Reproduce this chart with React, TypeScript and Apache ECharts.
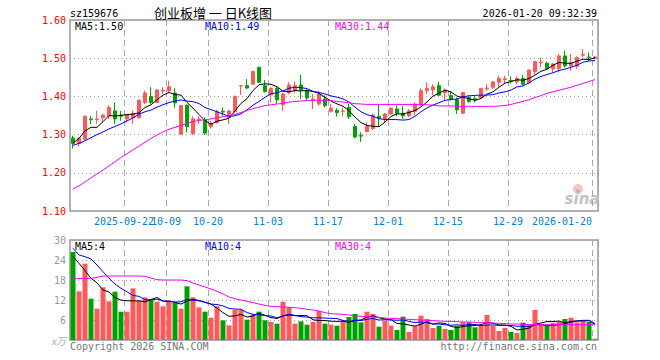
import React, { useEffect, useRef } from 'react';
import * as echarts from 'echarts';

const dates: string[] = [
  '2025-09-09','2025-09-10','2025-09-11','2025-09-12','2025-09-15','2025-09-16','2025-09-17','2025-09-18','2025-09-19',
  '2025-09-22','2025-09-23','2025-09-24','2025-09-25','2025-09-26','2025-09-29','2025-09-30',
  '2025-10-09','2025-10-10','2025-10-13','2025-10-14','2025-10-15','2025-10-16','2025-10-17',
  '2025-10-20','2025-10-21','2025-10-22','2025-10-23','2025-10-24','2025-10-27','2025-10-28','2025-10-29','2025-10-30','2025-10-31',
  '2025-11-03','2025-11-04','2025-11-05','2025-11-06','2025-11-07','2025-11-10','2025-11-11','2025-11-12','2025-11-13','2025-11-14',
  '2025-11-17','2025-11-18','2025-11-19','2025-11-20','2025-11-21','2025-11-24','2025-11-25','2025-11-26','2025-11-27','2025-11-28',
  '2025-12-01','2025-12-02','2025-12-03','2025-12-04','2025-12-05','2025-12-08','2025-12-09','2025-12-10','2025-12-11','2025-12-12',
  '2025-12-15','2025-12-16','2025-12-17','2025-12-18','2025-12-19','2025-12-22','2025-12-23','2025-12-24','2025-12-25','2025-12-26',
  '2025-12-29','2025-12-30','2025-12-31',
  '2026-01-05','2026-01-06','2026-01-07','2026-01-08','2026-01-09','2026-01-12','2026-01-13','2026-01-14','2026-01-15','2026-01-16',
  '2026-01-19','2026-01-20',
];

// [open, close, low, high]
const candles: number[][] = [
  [1.291,1.277,1.264,1.297],[1.277,1.290,1.269,1.293],[1.288,1.348,1.286,1.350],[1.341,1.339,1.328,1.349],
  [1.339,1.341,1.328,1.362],[1.344,1.351,1.332,1.354],[1.348,1.371,1.341,1.377],[1.362,1.341,1.328,1.384],
  [1.351,1.348,1.336,1.362],[1.341,1.351,1.332,1.354],[1.344,1.356,1.328,1.362],[1.345,1.390,1.341,1.392],
  [1.384,1.409,1.380,1.415],[1.400,1.384,1.380,1.424],[1.384,1.417,1.383,1.418],[1.414,1.416,1.406,1.424],
  [1.415,1.425,1.410,1.441],[1.409,1.383,1.371,1.421],[1.301,1.376,1.301,1.378],[1.377,1.321,1.306,1.378],
  [1.303,1.341,1.299,1.348],[1.338,1.341,1.328,1.348],[1.338,1.304,1.299,1.345],[1.321,1.329,1.316,1.336],
  [1.332,1.360,1.328,1.365],[1.361,1.359,1.349,1.371],[1.345,1.362,1.328,1.364],[1.360,1.400,1.358,1.402],
  [1.427,1.428,1.404,1.429],[1.428,1.422,1.419,1.445],[1.432,1.465,1.430,1.467],[1.476,1.437,1.435,1.478],
  [1.428,1.413,1.410,1.443],[1.404,1.421,1.384,1.424],[1.421,1.391,1.380,1.428],[1.378,1.406,1.362,1.410],
  [1.409,1.430,1.406,1.437],[1.415,1.428,1.410,1.439],[1.430,1.417,1.393,1.456],[1.415,1.396,1.389,1.419],
  [1.389,1.393,1.367,1.406],[1.380,1.406,1.376,1.415],[1.393,1.376,1.371,1.402],[1.361,1.369,1.358,1.380],
  [1.364,1.358,1.347,1.369],[1.361,1.362,1.348,1.371],[1.371,1.347,1.341,1.380],[1.321,1.294,1.290,1.328],
  [1.298,1.296,1.281,1.306],[1.308,1.321,1.306,1.332],[1.316,1.351,1.313,1.356],[1.348,1.342,1.321,1.378],
  [1.341,1.354,1.332,1.356],[1.354,1.369,1.352,1.371],[1.367,1.356,1.348,1.376],[1.356,1.349,1.341,1.374],
  [1.349,1.362,1.345,1.367],[1.361,1.380,1.351,1.384],[1.377,1.415,1.376,1.421],[1.415,1.421,1.406,1.437],
  [1.417,1.425,1.403,1.432],[1.428,1.403,1.402,1.438],[1.409,1.417,1.389,1.421],[1.402,1.393,1.389,1.412],
  [1.391,1.365,1.354,1.397],[1.356,1.410,1.354,1.412],[1.397,1.386,1.384,1.403],[1.394,1.392,1.384,1.402],
  [1.396,1.421,1.393,1.421],[1.420,1.422,1.415,1.432],[1.424,1.438,1.419,1.441],[1.437,1.447,1.425,1.454],
  [1.444,1.446,1.432,1.454],[1.442,1.440,1.434,1.452],[1.438,1.447,1.432,1.452],[1.447,1.432,1.428,1.456],
  [1.435,1.469,1.434,1.470],[1.465,1.491,1.458,1.493],[1.488,1.490,1.476,1.502],[1.487,1.473,1.470,1.491],
  [1.472,1.485,1.463,1.487],[1.473,1.506,1.463,1.511],[1.506,1.480,1.476,1.520],[1.480,1.489,1.467,1.511],
  [1.479,1.502,1.472,1.505],[1.508,1.510,1.502,1.524],[1.503,1.501,1.493,1.515],[1.499,1.503,1.498,1.506],
];

// volume, in units of 10,000 (x万)
const volumes: number[] = [
  26.4,14.6,22.9,12.4,9.4,15.8,11.6,14.5,8.5,8.5,
  15.5,11.8,12.8,12.1,11.5,10.1,11.6,11.2,9.4,16.1,
  12.8,9.8,8.5,6.7,10.1,5.9,4.4,9.0,9.0,6.1,
  7.6,8.5,5.9,5.4,4.9,11.5,9.8,4.9,5.6,4.6,
  5.4,8.7,4.9,4.6,4.3,5.8,6.9,7.8,5.3,8.5,
  7.8,4.0,5.8,4.3,3.0,7.0,2.4,4.1,7.3,6.3,
  3.6,4.3,3.3,3.0,4.3,5.3,5.3,3.8,4.3,7.5,
  4.3,2.7,3.6,2.4,2.1,5.2,4.6,9.0,4.6,4.3,
  5.1,5.4,6.3,6.7,5.3,5.8,5.4,0.4,
];

// moving-average values at the window start (they depend on days before the chart)
const priceMa5Head = [1.278, 1.290, 1.310, 1.319];
const priceMa10Head = [1.272, 1.277, 1.284, 1.292, 1.300, 1.307, 1.315, 1.321, 1.328];
const priceMa30: number[] = [
  1.158,1.166,1.176,1.187,1.197,1.207,1.218,1.229,1.240,1.250,
  1.260,1.270,1.280,1.290,1.299,1.307,1.314,1.319,1.324,1.329,
  1.334,1.337,1.339,1.341,1.344,1.347,1.349,1.353,1.358,1.363,
  1.368,1.372,1.376,1.378,1.380,1.382,1.385,1.387,1.388,1.389,
  1.390,1.390,1.390,1.389,1.387,1.385,1.383,1.381,1.380,1.379,
  1.379,1.379,1.379,1.379,1.379,1.379,1.379,1.379,1.379,1.378,
  1.377,1.375,1.375,1.375,1.374,1.374,1.374,1.374,1.374,1.374,
  1.374,1.375,1.376,1.379,1.383,1.387,1.391,1.397,1.402,1.408,
  1.412,1.416,1.420,1.424,1.429,1.434,1.439,1.444,
];
const volMa5Head = [25.0, 23.0, 20.8, 18.5];
const volMa10Head = [27.5, 25.5, 25.0, 24.3, 22.5, 20.5, 18.5, 16.8, 15.5];
const volMa30: number[] = [
  18.4,18.4,18.5,18.5,18.8,19.2,19.2,19.2,19.2,19.2,
  19.2,19.2,19.1,18.6,18.1,18.0,18.0,18.0,18.0,17.8,
  17.1,16.5,15.9,15.3,14.6,13.8,12.9,12.4,12.0,11.6,
  11.2,10.8,10.4,10.1,10.0,9.9,9.8,9.7,9.5,9.2,
  9.0,8.7,8.2,7.9,7.8,7.7,7.5,7.3,7.1,7.0,
  6.9,6.8,6.6,6.5,6.4,6.3,6.2,6.1,6.0,5.9,
  5.8,5.7,5.6,5.6,5.5,5.4,5.4,5.3,5.3,5.2,
  5.1,5.0,4.9,4.8,4.8,4.7,4.6,4.6,4.6,4.6,
  4.6,4.6,4.6,4.6,4.6,4.6,4.6,4.6,
];

const tickDates = ['2025-09-22','2025-10-09','2025-10-20','2025-11-03','2025-11-17','2025-12-01','2025-12-15','2025-12-29','2026-01-20'];

const stockCode = 'sz159676';
const chartTitle = '创业板增 一 日K线图';
const timeStamp = '2026-01-20 09:32:39';

const RED = '#ff5959';
const GREEN = '#00a000';
const MONO = '"DejaVu Sans Mono", "Liberation Mono", monospace';

function movingAvg(values: number[], n: number, head: number[]): number[] {
  return values.map((_, i) => {
    if (i < head.length) return head[i];
    let s = 0;
    for (let k = i - n + 1; k <= i; k++) s += values[k];
    return s / n;
  });
}

export default function App() {
  const ref = useRef<HTMLDivElement>(null);

  useEffect(() => {
    if (!ref.current) return;
    const chart = echarts.init(ref.current, undefined, { renderer: 'svg' });

    const closes = candles.map((c) => c[1]);
    const pMa5 = movingAvg(closes, 5, priceMa5Head);
    const pMa10 = movingAvg(closes, 10, priceMa10Head);
    const vMa5 = movingAvg(volumes, 5, volMa5Head);
    const vMa10 = movingAvg(volumes, 10, volMa10Head);
    const last = dates.length - 1;

    const tickIdx = new Set(tickDates.map((d) => dates.indexOf(d)));
    const tickText = (i: number) => {
      const d = dates[i];
      const k = tickDates.indexOf(d);
      return k === 0 || k === tickDates.length - 1 ? d : d.slice(5);
    };

    const vLine = {
      show: true,
      interval: (i: number) => tickIdx.has(i),
      lineStyle: { color: '#a8a8a8', type: [6, 4], width: 1 },
    };
    const hLine = { show: true, lineStyle: { color: '#a0a0a0', type: [1, 3], width: 1 } };

    const lineSeries = (name: string, data: number[], color: string, xi: number) => ({
      name,
      type: 'line',
      xAxisIndex: xi,
      yAxisIndex: xi,
      data: data.map((v) => +v.toFixed(4)),
      showSymbol: false,
      symbol: 'none',
      smooth: false,
      silent: true,
      lineStyle: { color, width: 1 },
      z: 3,
    });

    const txt = (text: string, x: number, y: number, fill: string, extra: any = {}) => ({
      type: 'text',
      x,
      y,
      silent: true,
      style: {
        text,
        fill,
        font: `10px ${MONO}`,
        verticalAlign: 'middle',
        align: 'left',
        ...extra,
      },
    });

    const option: any = {
      animation: false,
      grid: [
        { left: 70, top: 20, width: 528, height: 191, show: true, borderColor: '#999', borderWidth: 1.5 },
        { left: 70, top: 240, width: 528, height: 100, show: true, borderColor: '#999', borderWidth: 1.5 },
      ],
      xAxis: [
        {
          type: 'category',
          gridIndex: 0,
          data: dates,
          boundaryGap: true,
          axisLine: { show: false },
          axisTick: { show: false },
          axisLabel: {
            interval: 0,
            hideOverlap: false,
            margin: 5,
            formatter: (_v: string, i: number) => {
              if (!tickIdx.has(i)) return '';
              return i === last ? `{e|${tickText(i)}}` : `{n|${tickText(i)}}`;
            },
            rich: {
              n: { padding: [0, 6, 0, 0], color: '#0a80cc', fontFamily: MONO, fontSize: 10 },
              e: { padding: [0, 66, 0, 0], color: '#0a80cc', fontFamily: MONO, fontSize: 10 },
            },
          },
          splitLine: vLine,
        },
        {
          type: 'category',
          gridIndex: 1,
          data: dates,
          boundaryGap: true,
          axisLine: { show: false },
          axisTick: { show: false },
          axisLabel: { show: false },
          splitLine: vLine,
        },
      ],
      yAxis: [
        {
          type: 'value',
          gridIndex: 0,
          min: 1.1,
          max: 1.6,
          interval: 0.1,
          axisLine: { show: false },
          axisTick: { show: false },
          axisLabel: {
            color: '#ff0000',
            fontFamily: MONO,
            fontSize: 10,
            margin: 4,
            formatter: (v: number) => v.toFixed(2),
          },
          splitLine: hLine,
        },
        {
          type: 'value',
          gridIndex: 1,
          min: 0,
          max: 30,
          interval: 6,
          axisLine: { show: false },
          axisTick: { show: false },
          axisLabel: {
            color: '#999',
            fontFamily: MONO,
            fontSize: 10,
            margin: 4,
            formatter: (v: number) => (v === 0 ? '{u|x万}' : String(v)),
            rich: { u: { color: '#aaa', fontStyle: 'italic', fontFamily: 'Noto Sans CJK SC', fontSize: 10 } },
          },
          splitLine: hLine,
        },
      ],
      series: [
        {
          type: 'candlestick',
          xAxisIndex: 0,
          yAxisIndex: 0,
          data: candles,
          barWidth: 4,
          silent: true,
          itemStyle: { color: RED, color0: GREEN, borderColor: RED, borderColor0: GREEN, borderWidth: 1 },
          z: 2,
        },
        lineSeries('MA5', pMa5, '#000000', 0),
        lineSeries('MA10', pMa10, '#0000ff', 0),
        lineSeries('MA30', priceMa30, '#ff00ff', 0),
        {
          type: 'bar',
          xAxisIndex: 1,
          yAxisIndex: 1,
          barWidth: 5,
          silent: true,
          data: volumes.map((v, i) => ({
            value: v,
            itemStyle: { color: candles[i][1] >= candles[i][0] ? RED : GREEN },
          })),
          z: 2,
        },
        lineSeries('VMA5', vMa5, '#000000', 1),
        lineSeries('VMA10', vMa10, '#0000ff', 1),
        lineSeries('VMA30', volMa30, '#ff00ff', 1),
      ],
      graphic: [
        txt(stockCode, 70, 13, '#000'),
        {
          type: 'text',
          x: 213,
          y: 12,
          silent: true,
          style: {
            text: chartTitle,
            fill: '#000',
            font: '13px "Noto Sans CJK SC"',
            align: 'center',
            verticalAlign: 'middle',
          },
        },
        txt(timeStamp, 597, 13, '#000', { align: 'right' }),
        txt(`MA5:${pMa5[last].toFixed(2)}`, 75, 26, '#000'),
        txt(`MA10:${pMa10[last].toFixed(2)}`, 205, 26, '#0000ff'),
        txt(`MA30:${priceMa30[last].toFixed(2)}`, 335, 26, '#ff00ff'),
        txt(`MA5:${Math.floor(vMa5[last])}`, 75, 246, '#000'),
        txt(`MA10:${Math.floor(vMa10[last])}`, 205, 246, '#0000ff'),
        txt(`MA30:${Math.floor(volMa30[last])}`, 335, 246, '#ff00ff'),
        txt('Copyright 2026 SINA.COM', 70, 346, '#777'),
        txt('http://finance.sina.com.cn', 597, 346, '#777', { align: 'right' }),
        {
          type: 'group',
          silent: true,
          z: 1,
          children: [
            { type: 'circle', shape: { cx: 578, cy: 189, r: 5 }, style: { fill: '#f6c4c4' } },
            { type: 'circle', shape: { cx: 578, cy: 191, r: 2 }, style: { fill: '#b8b8b8' } },
            {
              type: 'text',
              x: 582,
              y: 199,
              style: {
                text: 'sina',
                fill: '#c4c4c4',
                font: 'italic bold 15px "DejaVu Sans"',
                align: 'center',
                verticalAlign: 'middle',
              },
            },
          ],
        },
      ],
    };

    chart.setOption(option);
    return () => chart.dispose();
  }, []);

  return (
    <div
      ref={ref}
      style={{ position: 'fixed', left: 0, top: 0, width: 660, height: 360, background: '#fff' }}
    />
  );
}
